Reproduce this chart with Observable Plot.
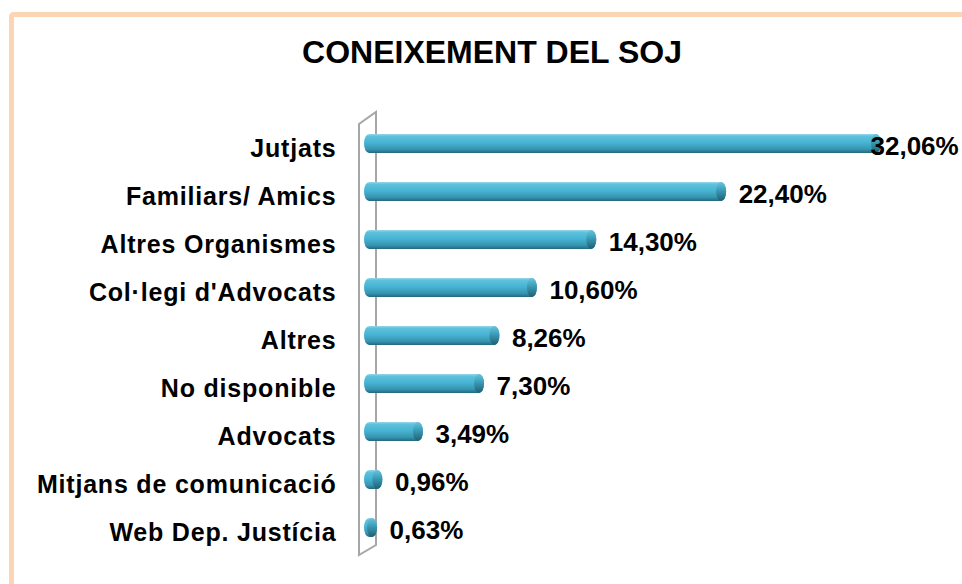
<!DOCTYPE html>
<html>
<head>
<meta charset="utf-8">
<script src="https://cdn.jsdelivr.net/npm/d3@7"></script>
<script src="https://cdn.jsdelivr.net/npm/@observablehq/plot@0.6"></script>
<style>
  html, body { margin: 0; padding: 0; background: #fff; overflow: hidden; }
  #wrap { position: relative; width: 962px; height: 584px; overflow: hidden; font-family: "Liberation Sans", Arial, sans-serif; }
  #frame { position: absolute; left: 9px; top: 12px; width: 1200px; height: 900px;
           border-left: 5px solid #FCD5B4; border-top: 5px solid #FCD5B4; border-top-left-radius: 5px; box-sizing: border-box; }
  #title { position: relative; height: 88px; text-align: center; font-weight: bold; font-size: 32px;
           line-height: 30px; padding-top: 37px; box-sizing: border-box; color: #000; padding-left: 22px; }
  #chart { position: relative; }
  .cat { letter-spacing: 0.8px; }
</style>
</head>
<body>
<div id="wrap">
  <div id="frame"></div>
  <div id="title">CONEIXEMENT DEL SOJ</div>
  <div id="chart"></div>
</div>
<script>
const categories = ["Jutjats", "Familiars/ Amics", "Altres Organismes", "Col·legi d'Advocats", "Altres", "No disponible", "Advocats", "Mitjans de comunicació", "Web Dep. Justícia"];
const values = [32.06, 22.40, 14.30, 10.60, 8.26, 7.30, 3.49, 0.96, 0.63];

const data = categories.map((c, i) => ({cat: c, v: values[i]}));
const fmt = v => d3.format(".2f")(v).replace(".", ",") + "%";
const maxV = d3.max(values);

const plot = Plot.plot({
  width: 962,
  height: 496,
  marginLeft: 367,
  marginRight: 81,
  marginTop: 16.6,
  marginBottom: 17.6,
  style: {fontFamily: "'Liberation Sans', Arial, sans-serif", fontWeight: "bold", background: "transparent", overflow: "visible"},
  x: {domain: [0, maxV], axis: null},
  y: {domain: categories, padding: 0.6, axis: null},
  marks: [
    () => {
      const ns = "http://www.w3.org/2000/svg";
      const defs = document.createElementNS(ns, "defs");
      defs.innerHTML = `
        <linearGradient id="cyl" x1="0" y1="0" x2="0" y2="1">
          <stop offset="0" stop-color="#9ad6e8"/>
          <stop offset="0.12" stop-color="#5cc2de"/>
          <stop offset="0.45" stop-color="#48b4d2"/>
          <stop offset="0.8" stop-color="#3596b0"/>
          <stop offset="1" stop-color="#24697c"/>
        </linearGradient>
        <linearGradient id="cap" x1="0" y1="0" x2="0" y2="1">
          <stop offset="0" stop-color="#6cc3db"/>
          <stop offset="0.4" stop-color="#3d9fba"/>
          <stop offset="1" stop-color="#1f5f70"/>
        </linearGradient>`;
      return defs;
    },
    Plot.barX(data, {y: "cat", x1: 0, x2: "v", insetLeft: -3, fill: "url(#cyl)", rx: 5, ry: 9.6}),
    Plot.barX(data, {y: "cat", x1: "v", x2: "v", insetLeft: -10, fill: "url(#cap)", rx: 5, ry: 9.6}),
    Plot.text(data, {y: "cat", x: 0, text: "cat", dx: -31, dy: 5, textAnchor: "end", fontSize: 25, fontWeight: "bold", fill: "#000", className: "cat"}),
    Plot.text(data.filter(d => d.v < maxV), {y: "cat", x: "v", text: d => fmt(d.v), dx: 12, dy: 3, textAnchor: "start", fontSize: 26, fontWeight: "bold", fill: "#000"}),
    Plot.text(data.filter(d => d.v === maxV), {y: "cat", x: "v", text: d => fmt(d.v), dx: -11, dy: 3, textAnchor: "start", fontSize: 26, fontWeight: "bold", fill: "#000"})
  ]
});

document.getElementById("chart").appendChild(plot);

// 3D wall outline derived from the scales
const xs = plot.scale("x"), ys = plot.scale("y");
const x0 = xs.apply(0);
const yFirst = ys.apply(categories[0]);
const yLast = ys.apply(categories[categories.length - 1]) + ys.bandwidth;
const svg = d3.select(plot);
const wall = svg.insert("g", ":nth-child(2)").attr("fill", "none").attr("stroke", "#a6a6a6").attr("stroke-width", 2);
const fx = x0 - 8, bx = x0 + 9;
wall.append("path").attr("d",
  `M${fx},${yLast + 18} L${fx},${yFirst - 10} L${bx},${yFirst - 22} L${bx},${yLast + 8} Z`);
</script>
</body>
</html>
